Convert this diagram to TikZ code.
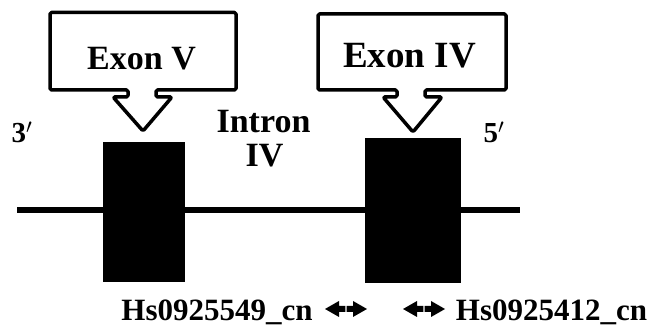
\documentclass[tikz,border=0pt]{standalone}
\usepackage{fontspec}
\setmainfont{Liberation Serif}

\newcommand\fsz[1]{\fontsize{#1}{#1}\selectfont}

\tikzset{
  lbl/.style={font=\bfseries, anchor=base, inner sep=0pt},
  callout/.style={line width=3.5pt, line join=round, rounded corners=1.5pt},
  exon/.style={fill=black, inner sep=0pt},
  halfhead/.style={fill=black}
}

\begin{document}
\begin{tikzpicture}[x=1pt,y=-1pt] % 1 px = 1 pt, y vers le bas

\useasboundingbox (0,0) rectangle (651,328);

% --------- PARAMETRES ----------
\def\yline{210}   % position de la ligne (intron)
\def\ybase{321}   % ligne de base des sondes
\def\yarr{309}    % hauteur des doubles fleches
% --------------------------------

% Ligne horizontale
\coordinate (gl) at (17,\yline);
\coordinate (gr) at (520,\yline);
\draw[line width=6pt] (gl) -- (gr);

% Exons (boites noires)
\node[exon, minimum width=82pt, minimum height=140pt] (ex5) at (144,212) {};
\node[exon, minimum width=96pt, minimum height=145pt] (ex4) at (413,210.5) {};

% Bulles avec fleche vers les exons
\draw[callout] (50,12.5) -- (236,12.5) -- (236,90) -- (156,90) -- (156,97)
  -- (172,97) -- (143,131) -- (113,97) -- (128,97) -- (128,90) -- (50,90) -- cycle;
\draw[callout] (318,14) -- (506,14) -- (506,90) -- (425,90) -- (425,97)
  -- (442,97) -- (413,132) -- (383,97) -- (397,97) -- (397,90) -- (318,90) -- cycle;
\node[lbl, font=\bfseries\fsz{34}] (t5) at (141.5,70) {Exon V};
\node[lbl, font=\bfseries\fsz{37}] (t4) at (409.5,68) {Exon IV};

% Extremites et intron
\node[lbl, font=\bfseries\fsz{29}] (p3) at (22,143) {3$'$};
\node[lbl, font=\bfseries\fsz{29}] (p5) at (494,143) {5$'$};
\node[lbl, font=\bfseries\fsz{34}] (intr) at (263.5,133) {Intron};
\node[lbl, font=\bfseries\fsz{34}] (intn) at (264.5,167) {IV};

% Sondes
\node[lbl, font=\bfseries\fsz{31}] (s1) at (217,\ybase) {Hs0925549\_cn};
\node[lbl, font=\bfseries\fsz{31}] (s2) at (551.5,\ybase) {Hs0925412\_cn};

% Doubles fleches (deux demi-fleches pleines)
\coordinate (a1l) at (325,\yarr); \coordinate (a1r) at (367,\yarr);
\coordinate (a2l) at (403,\yarr); \coordinate (a2r) at (445,\yarr);
\foreach \e in {a1l,a2l}{
  \fill[halfhead] (\e) -- ++(14,-8) -- ++(0,5) -- ++(6.4,0) -- ++(0,6) -- ++(-6.4,0) -- ++(0,5) -- cycle;
}
\foreach \e in {a1r,a2r}{
  \fill[halfhead] (\e) -- ++(-14,-8) -- ++(0,5) -- ++(-6.4,0) -- ++(0,6) -- ++(6.4,0) -- ++(0,5) -- cycle;
}

\end{tikzpicture}
\end{document}
